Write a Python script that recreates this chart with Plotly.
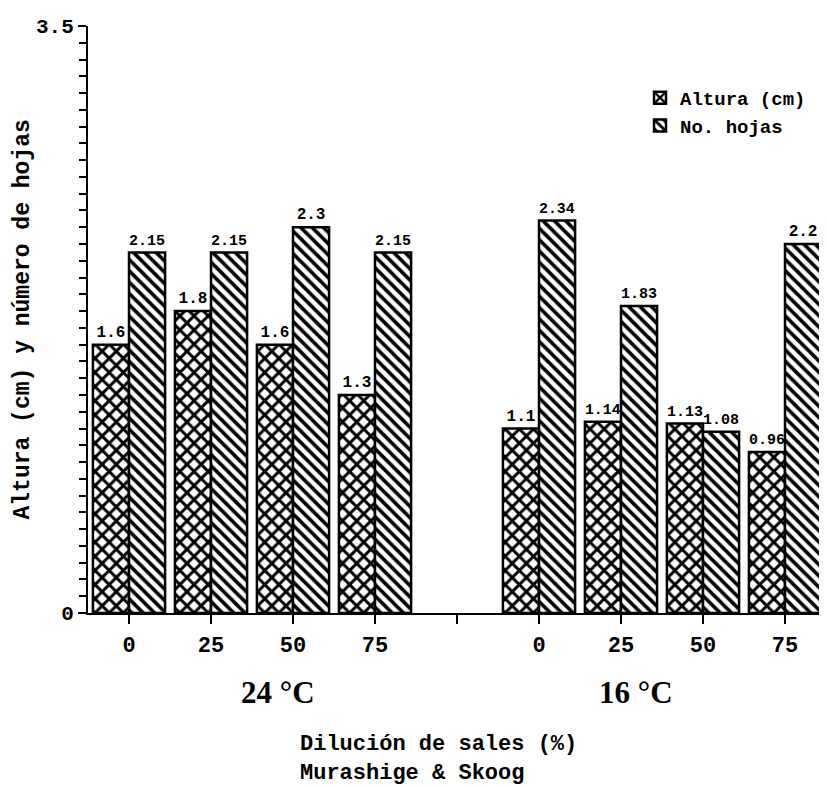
import plotly.graph_objects as go

# ---- data ----
dilucion = ["0", "25", "50", "75"]
temperaturas = ["24 °C", "16 °C"]
altura_24 = [1.6, 1.8, 1.6, 1.3]
hojas_24 = [2.15, 2.15, 2.3, 2.15]
altura_16 = [1.1, 1.14, 1.13, 0.96]
hojas_16 = [2.34, 1.83, 1.08, 2.2]
altura_lbl = ["1.6", "1.8", "1.6", "1.3", "1.1", "1.14", "1.13", "0.96"]
hojas_lbl = ["2.15", "2.15", "2.3", "2.15", "2.34", "1.83", "1.08", "2.2"]

# category positions: 4 dilutions, a gap slot, 4 dilutions
n = len(dilucion)
pos = list(range(n)) + [n + 1 + i for i in range(n)]
tick_pos = list(range(2 * n + 1))
tick_txt = dilucion + [""] + dilucion

MONO = "Liberation Mono"
SERIF = "Liberation Serif"

fig = go.Figure()
fig.add_trace(go.Bar(
    x=pos, y=altura_24 + altura_16, name="Altura (cm)",
    text=altura_lbl, textposition="outside", cliponaxis=False,
    textfont=dict(family=MONO, size=16, color="black", weight="bold"),
    marker=dict(color="white", line=dict(color="black", width=2.5),
                pattern=dict(shape="x", size=10, solidity=0.5, fgcolor="black",
                             bgcolor="white", fgopacity=1)),
))
fig.add_trace(go.Bar(
    x=pos, y=hojas_24 + hojas_16, name="No. hojas",
    text=hojas_lbl, textposition="outside", cliponaxis=False,
    textfont=dict(family=MONO, size=16, color="black", weight="bold"),
    marker=dict(color="white", line=dict(color="black", width=2.5),
                pattern=dict(shape="\\", size=8, solidity=0.45, fgcolor="black",
                             bgcolor="white", fgopacity=1)),
))

fig.update_layout(
    width=827, height=787,
    margin=dict(l=80, r=9, t=18, b=182),
    paper_bgcolor="white", plot_bgcolor="white",
    barmode="group", bargap=0.12, bargroupgap=0,
    font=dict(family=MONO, color="black", size=18),
    showlegend=True,
    legend=dict(x=0.748, y=0.91, xanchor="left", yanchor="top",
                bgcolor="rgba(0,0,0,0)", tracegroupgap=4,
                font=dict(family=MONO, size=19, color="black", weight="bold"),
                itemwidth=30),
    xaxis=dict(range=[-0.5, 8.5], tickmode="array", tickvals=tick_pos, ticktext=tick_txt,
               showline=True, linecolor="black", linewidth=2, ticks="outside",
               ticklen=9, tickwidth=2, tickcolor="black", showgrid=False, zeroline=False,
               ticklabelstandoff=2,
               tickfont=dict(family=MONO, size=22, color="black", weight="bold")),
    yaxis=dict(range=[0, 3.5], tickmode="array", tickvals=[0, 3.5], ticktext=["0", "3.5"],
               showline=True, linecolor="black", linewidth=2, ticks="outside",
               ticklen=8, tickwidth=2, tickcolor="black", showgrid=False, zeroline=False,
               tickfont=dict(family=MONO, size=21, color="black", weight="bold"),
               minor=dict(tickmode="linear", tick0=0, dtick=0.1, ticks="outside",
                          ticklen=7, tickwidth=1.5, tickcolor="black", showgrid=False)),
)

# y-axis title
fig.add_annotation(x=(14 - 80) / 738, y=0.5, xref="paper", yref="paper",
                   xanchor="center", yanchor="middle", textangle=-90, showarrow=False,
                   text="Altura (cm) y número de hojas",
                   font=dict(family=MONO, size=23, color="black", weight="bold"))

# temperature group labels
for t, xc in zip(temperaturas, [1.82, 6.18]):
    fig.add_annotation(x=xc, y=-(692 - 613) / 587, xref="x", yref="paper",
                       xanchor="center", yanchor="middle", text=t, showarrow=False,
                       font=dict(family=SERIF, size=31, color="black", weight="bold"))

fig.add_annotation(x=(298 - 88) / 738, y=-(730 - 613) / 587, xref="paper", yref="paper",
                   xanchor="left", yanchor="top", align="left", showarrow=False,
                   text="Dilución de sales (%)<br>Murashige & Skoog",
                   font=dict(family=MONO, size=22, color="black", weight="bold"))

fig.write_html("out.html")
